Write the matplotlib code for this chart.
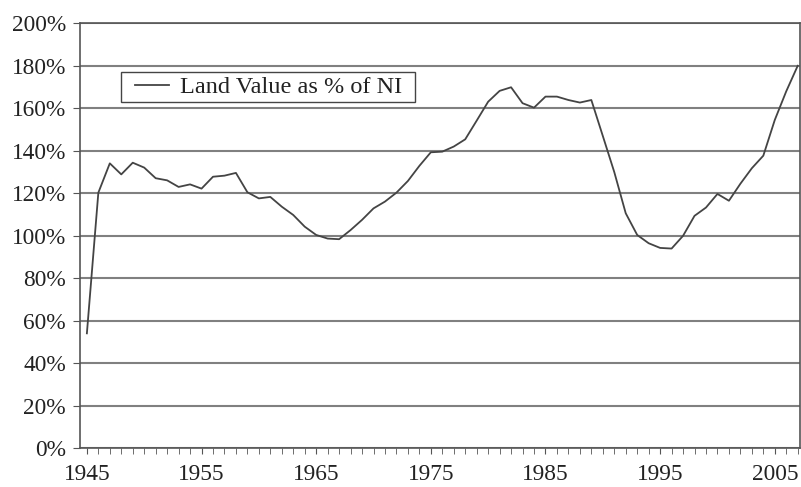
import matplotlib.pyplot as plt
from matplotlib.patches import Rectangle
from matplotlib.ticker import FixedLocator, MultipleLocator

years = list(range(1945, 2008))
land_value_pct = [
    54.1, 120.3, 134.1, 128.9, 134.4, 132.1, 127.1, 126.1, 123.0, 124.2,
    122.2, 127.8, 128.3, 129.6, 120.5, 117.6, 118.3, 113.7, 109.8, 104.3,
    100.4, 98.7, 98.4, 102.7, 107.5, 112.9, 116.1, 120.3, 125.8, 132.9,
    139.3, 139.6, 142.0, 145.4, 154.2, 163.1, 168.2, 169.9, 162.4, 160.3,
    165.5, 165.5, 163.9, 162.7, 163.9, 147.0, 130.0, 110.6, 100.4, 96.5,
    94.3, 94.0, 100.0, 109.4, 113.3, 119.7, 116.5, 124.5, 131.8, 137.7,
    154.5, 168.0, 180.0,
]
y_ticks = list(range(0, 201, 20))
x_labels = list(range(1945, 2006, 10))

plt.rcParams["font.family"] = ["Liberation Serif", "DejaVu Serif"]


def main():
    fig = plt.figure(figsize=(8.01, 4.87), dpi=100)
    ax = fig.add_axes([80 / 801, 1 - 448.3 / 487, 720 / 801, 425 / 487])

    ax.plot(years, land_value_pct, color="#444444", lw=1.3,
            label="Land Value as % of NI", zorder=3)

    ax.set_xlim(1944.4, 2007.2)
    ax.set_ylim(0, 200)

    ax.yaxis.set_major_locator(FixedLocator(y_ticks))
    ax.set_yticklabels([f"{v}%" for v in y_ticks])
    ax.xaxis.set_major_locator(FixedLocator(x_labels))
    ax.xaxis.set_minor_locator(MultipleLocator(1))

    ax.grid(axis="y", color="#808080", lw=1.5)
    ax.tick_params(axis="both", which="both", direction="out",
                   color="#555555", labelsize=16.8, labelcolor="#222222")
    ax.tick_params(axis="x", which="both", length=4, pad=7)
    ax.tick_params(axis="y", length=5, pad=5)
    for s in ax.spines.values():
        s.set_color("#555555")
        s.set_linewidth(1.2)

    # legend box drawn separately so its padding matches the original
    box = Rectangle((0.0565, 0.8155), 0.4088, 0.0706, transform=ax.transAxes,
                    facecolor="white", edgecolor="#444444", lw=1.0, zorder=4)
    ax.add_patch(box)
    leg = ax.legend(loc="center left", bbox_to_anchor=(0.0764, 0.850),
                    borderaxespad=0, borderpad=0, fontsize=17.5,
                    frameon=False, handlelength=1.4, handletextpad=0.45)
    leg.set_zorder(5)
    for t in leg.get_texts():
        t.set_color("#222222")

    fig.savefig("out.png", dpi=100)


if __name__ == "__main__":
    main()
